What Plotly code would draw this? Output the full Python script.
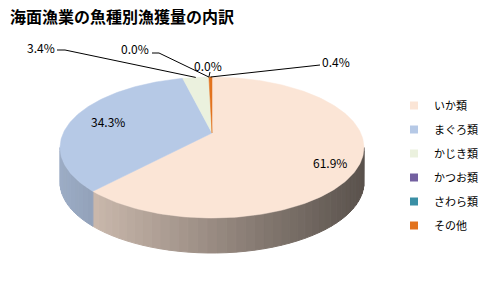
import numpy as np
import plotly.graph_objects as go

# ---------------- data ----------------
title_text = "海面漁業の魚種別漁獲量の内訳"
categories = ["いか類", "まぐろ類", "かじき類", "かつお類", "さわら類", "その他"]
shares = [61.9, 34.3, 3.4, 0.0, 0.0, 0.4]
label_texts = [f"{v:.1f}%" for v in shares]

# ---------------- styles ----------------
top_colors = ["#FBE5D6", "#B6C9E6", "#EBF1DE", "#7360A0", "#3A8FA5", "#E2731E"]
FONT = "Noto Sans CJK JP"
W, H = 497, 298

# pie geometry (pixel space, perspective projection of a tilted disc)
CX, CY = 212.0, 133.0
R, B, K = 148.7, 67.5, 0.206
DEPTH = 35.0


def proj(theta_deg, dy=0.0):
    t = np.radians(np.asarray(theta_deg, dtype=float))
    u = np.sin(t)
    v = -np.cos(t)
    s = 1.0 / (1.0 - K * v)
    return CX + R * u * s, CY + B * v * s + dy


def hex_rgb(h):
    h = h.lstrip("#")
    return tuple(int(h[i:i + 2], 16) for i in (0, 2, 4))


total = sum(shares)
ends = np.cumsum([v / total * 360.0 for v in shares])
starts = np.concatenate([[0.0], ends[:-1]])

fig = go.Figure()

# ---- side walls (front-facing part of the rim) ----
th_right = np.degrees(np.arccos(-K))
th_left = 360.0 - th_right
xmin = CX - R / np.sqrt(1 - K * K)
xmax = CX + R / np.sqrt(1 - K * K)
for i, (a0, a1) in enumerate(zip(starts, ends)):
    lo, hi = max(a0, th_right), min(a1, th_left)
    if hi <= lo:
        continue
    n = max(1, int(np.ceil((hi - lo) / 3.0)))
    edges = np.linspace(lo, hi, n + 1)
    base = hex_rgb(top_colors[i])
    for e0, e1 in zip(edges[:-1], edges[1:]):
        th = np.linspace(e0, e1, 6)
        xt, yt = proj(th)
        xb, yb = proj(th[::-1], DEPTH)
        xm = float(np.mean(xt))
        t = (xm - xmin) / (xmax - xmin)
        f = 0.86 - 0.5 * t
        col = "rgb({},{},{})".format(*[int(c * f) for c in base])
        fig.add_trace(go.Scatter(
            x=list(xt) + list(xb) + [xt[0]], y=list(yt) + list(yb) + [yt[0]],
            mode="lines", fill="toself", fillcolor=col,
            line=dict(color=col, width=1), showlegend=False, hoverinfo="skip"))

# ---- top faces ----
for i, (a0, a1) in enumerate(zip(starts, ends)):
    if a1 - a0 <= 0:
        continue
    th = np.linspace(a0, a1, max(3, int((a1 - a0) / 1.0) + 2))
    x, y = proj(th)
    fig.add_trace(go.Scatter(
        x=[CX] + list(x) + [CX], y=[CY] + list(y) + [CY],
        mode="lines", fill="toself", fillcolor=top_colors[i],
        line=dict(color=top_colors[i], width=0.5),
        showlegend=False, name=categories[i], hoverinfo="skip"))

# ---- data labels ----
mids = (starts + ends) / 2.0
inside_pos = {0: (330, 162), 1: (108, 121)}
outside = {  # label centre, elbow points (layout)
    2: ((41, 47), [(57, 50), (65, 50)]),
    3: ((135, 48), [(152, 53), (159, 53)]),
    4: ((208, 65), [(210, 72)]),
    5: ((336, 61), [(320, 65)]),
}
for i, txt in enumerate(label_texts):
    if i in inside_pos:
        lx, ly = inside_pos[i]
    else:
        (lx, ly), elbow = outside[i]
        ex, ey = proj(mids[i])
        xs = [p[0] for p in elbow] + [float(ex)]
        ys = [p[1] for p in elbow] + [float(ey)]
        fig.add_trace(go.Scatter(x=xs, y=ys, mode="lines",
                                 line=dict(color="black", width=1),
                                 showlegend=False, hoverinfo="skip"))
    fig.add_annotation(x=lx, y=ly, xref="x", yref="y", text=txt,
                       showarrow=False, font=dict(family=FONT, size=12, color="#000000"))

# ---- legend entries ----
for i, name in enumerate(categories):
    fig.add_trace(go.Scatter(x=[None], y=[None], mode="markers", name=name,
                             legendgroup=name,
                             marker=dict(symbol="square", size=8, color=top_colors[i])))

fig.update_layout(
    width=W, height=H, autosize=False,
    margin=dict(l=0, r=0, t=0, b=0),
    paper_bgcolor="white", plot_bgcolor="white",
    xaxis=dict(range=[0, W], visible=False, fixedrange=True),
    yaxis=dict(range=[H, 0], visible=False, fixedrange=True),
    title=dict(text="<b>" + title_text + "</b>", x=10 / W, xanchor="left",
               y=1 - 17 / H, yanchor="middle", xref="paper", yref="paper",
               font=dict(family=FONT, size=16, color="#000000")),
    legend=dict(x=394 / W, xanchor="left", y=1 - 91 / H, yanchor="top",
                font=dict(family=FONT, size=11, color="#000000"),
                tracegroupgap=5, itemwidth=30, bgcolor="rgba(0,0,0,0)"),
    showlegend=True,
)

fig.write_html("out.html")
